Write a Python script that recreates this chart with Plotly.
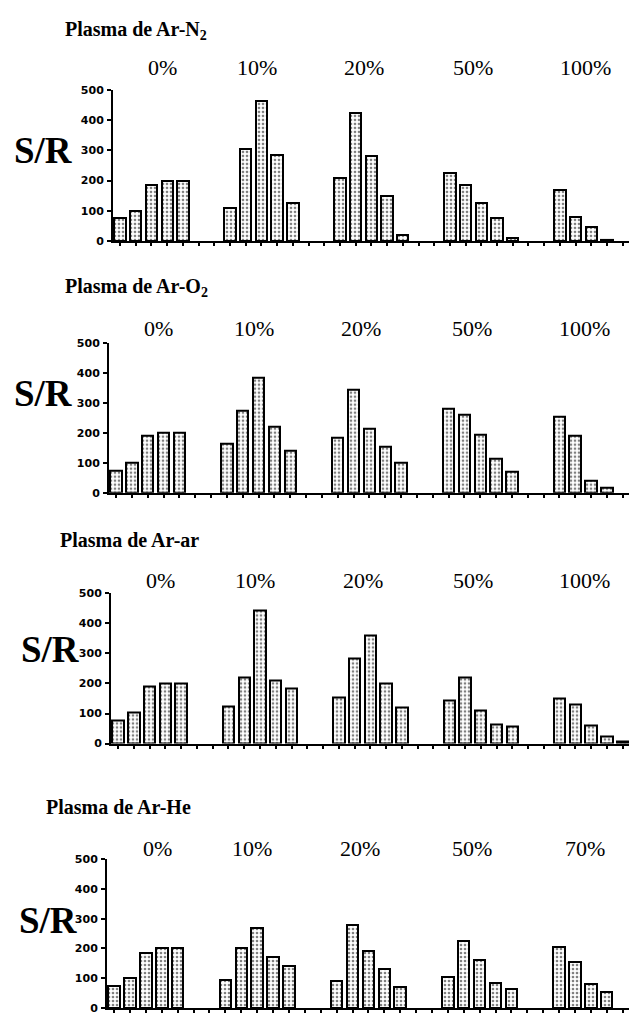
import plotly.graph_objects as go

panel_titles = ["Plasma de Ar-N<sub>2</sub>", "Plasma de Ar-O<sub>2</sub>",
                "Plasma de Ar-ar", "Plasma de Ar-He"]
group_labels = [
    ["0%", "10%", "20%", "50%", "100%"],
    ["0%", "10%", "20%", "50%", "100%"],
    ["0%", "10%", "20%", "50%", "100%"],
    ["0%", "10%", "20%", "50%", "70%"],
]
# S/R values per panel, per group (bars left to right)
n2_values = [[75, 100, 185, 200, 200], [110, 305, 465, 285, 125],
             [210, 425, 280, 150, 20], [225, 185, 125, 75, 10],
             [170, 80, 45, 5]]
o2_values = [[75, 100, 190, 200, 200], [165, 275, 385, 220, 140],
             [185, 345, 215, 155, 100], [280, 260, 195, 115, 70],
             [255, 190, 40, 18]]
air_values = [[78, 105, 190, 200, 200], [125, 220, 445, 210, 185],
              [155, 285, 360, 200, 120], [145, 220, 110, 65, 58],
              [150, 130, 60, 22, 8]]
he_values = [[75, 100, 185, 200, 200], [95, 200, 270, 170, 140],
             [90, 280, 190, 130, 70], [105, 225, 160, 85, 65],
             [205, 155, 80, 55]]
y_ticks = [0, 100, 200, 300, 400, 500]

panels = [n2_values, o2_values, air_values, he_values]

W, H = 629, 1024
# layout (pixels): y of 500 tick, y of 0 baseline, x of y-axis
geom = [
    dict(top=85, bot=238, left=113, title=(63, 25), lab=62, sr=(12, 146)),
    dict(top=341, bot=493, left=109, title=(63, 285), lab=327, sr=(12, 392)),
    dict(top=595, bot=747, left=111, title=(58, 541), lab=582, sr=(19, 652)),
    dict(top=864, bot=1015, left=107, title=(44, 811), lab=853, sr=(17, 926)),
]
label_shift = [0.7, -0.3, -0.5, -0.5, -0.4]
SLOT_GROUP = 7
fig = go.Figure()
annotations = []
for p, vals in enumerate(panels):
    g = geom[p]
    xs, ys = [], []
    for gi, grp in enumerate(vals):
        for bi, v in enumerate(grp):
            xs.append(gi * SLOT_GROUP + bi)
            ys.append(v)
    ax = "" if p == 0 else str(p + 1)
    fig.add_trace(go.Bar(
        x=xs, y=ys, width=0.72, xaxis="x" + ax, yaxis="y" + ax,
        marker=dict(color="white", line=dict(color="black", width=2),
                    pattern=dict(shape=".", fgcolor="black", bgcolor="white",
                                 size=4, solidity=0.35)),
        showlegend=False))
    xd = [g["left"] / W, 1.0]
    yd = [1 - g["bot"] / H, 1 - g["top"] / H]
    fig.layout["xaxis" + ax] = dict(
        domain=xd, range=[-0.45, 32.4], showgrid=False, zeroline=False,
        showline=True, linecolor="black", linewidth=2, ticks="outside",
        ticklen=3, tickcolor="black", tickwidth=2, dtick=1, tick0=0,
        showticklabels=False, anchor="y" + ax)
    fig.layout["yaxis" + ax] = dict(
        domain=yd, range=[0, 500], showgrid=False, zeroline=False,
        showline=True, linecolor="black", linewidth=2, ticks="outside",
        ticklen=4, tickcolor="black", tickwidth=2, tickvals=y_ticks,
        ticklabelstandoff=1,
        tickfont=dict(family="DejaVu Sans", size=11, color="black",
                      weight="bold"),
        anchor="x" + ax)
    annotations.append(dict(
        text="<b>" + panel_titles[p] + "</b>", xref="paper", yref="paper",
        x=g["title"][0] / W, y=1 - g["title"][1] / H, xanchor="left",
        yanchor="middle", showarrow=False,
        font=dict(family="Liberation Serif", size=20, color="black")))
    annotations.append(dict(
        text="<b>S/R</b>", xref="paper", yref="paper", x=g["sr"][0] / W,
        y=1 - g["sr"][1] / H, xanchor="left", yanchor="middle",
        showarrow=False,
        font=dict(family="Liberation Serif", size=37, color="black")))
    for gi, lab in enumerate(group_labels[p]):
        annotations.append(dict(
            text=lab, xref="x" + ax, yref="paper",
            x=gi * SLOT_GROUP + 2 + label_shift[gi],
            y=1 - g["lab"] / H, xanchor="center", yanchor="middle",
            showarrow=False,
            font=dict(family="Liberation Serif", size=22, color="black")))

fig.update_layout(width=W, height=H, margin=dict(l=0, r=0, t=0, b=0),
                  paper_bgcolor="white", plot_bgcolor="white",
                  annotations=annotations, bargap=0)
fig.write_html("out.html")
